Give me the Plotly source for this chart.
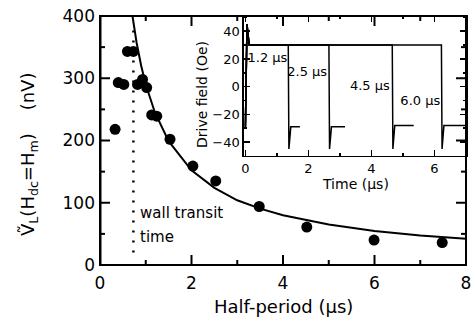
import plotly.graph_objects as go

# ---- main panel data ----
half_period = [0.33, 0.40, 0.52, 0.60, 0.73, 0.82, 0.93, 1.02, 1.13, 1.24, 1.53, 2.03, 2.53, 3.48, 4.52, 5.99, 7.48]
signal_nv = [218, 293, 290, 343, 343, 290, 298, 285, 241, 239, 202, 159, 135, 94, 61, 40, 36]

fit_x = [0.71, 0.8, 0.9, 1.0, 1.2, 1.5, 2.0, 2.5, 3.0, 3.5, 4.0, 5.0, 6.0, 7.0, 8.0]
fit_y = [400, 357, 320, 290, 245, 199, 152, 124, 104, 90.5, 80, 65, 54.8, 47.5, 42]

transit_x = [0.73, 0.73]
transit_y = [20, 378]

x_major = [0, 2, 4, 6, 8]
x_minor = [1, 3, 5, 7]
y_major = [0, 100, 200, 300, 400]
y_minor = [50, 150, 250, 350]

# ---- inset data (drive field waveforms) ----
t_12 = [0.0, 0.05, 0.12, 1.36, 1.38, 1.44, 1.73]
h_12 = [-29, 45, 30, 30, -45, -29, -29]
t_25 = [0.0, 0.05, 0.12, 2.65, 2.67, 2.73, 3.16]
h_25 = [-29, 45, 30, 30, -45, -29, -29]
t_45 = [0.0, 0.05, 0.12, 4.66, 4.68, 4.74, 5.34]
h_45 = [-29, 45, 30, 30, -45, -28, -28]
t_60 = [0.0, 0.05, 0.12, 6.22, 6.24, 6.30, 7.00]
h_60 = [-29, 45, 30, 30, -45, -28, -28]

labels = ["1.2 μs", "2.5 μs", "4.5 μs", "6.0 μs"]
label_x = [0.7, 1.96, 3.95, 5.55]
label_y = [20, 10, 0, -11]

FONT = "DejaVu Sans"

fig = go.Figure()

fig.add_trace(go.Scatter(x=fit_x, y=fit_y, mode="lines",
                         line=dict(color="black", width=2), showlegend=False))
fig.add_trace(go.Scatter(x=transit_x, y=transit_y, mode="lines",
                         line=dict(color="black", width=2.5, dash="2px,8px"),
                         showlegend=False))
fig.add_trace(go.Scatter(x=half_period, y=signal_nv, mode="markers",
                         marker=dict(color="black", size=11), showlegend=False))
# left frame edge drawn through the main axes as well
fig.add_trace(go.Scatter(x=[x_major[0], x_major[0]], y=[y_major[0], y_major[-1]],
                         mode="lines", line=dict(color="black", width=3),
                         cliponaxis=False, showlegend=False))

for t, h in [(t_12, h_12), (t_25, h_25), (t_45, h_45), (t_60, h_60)]:
    fig.add_trace(go.Scatter(x=t, y=h, mode="lines", xaxis="x2", yaxis="y2",
                             line=dict(color="black", width=1.5), showlegend=False))

fig.add_trace(go.Scatter(x=label_x, y=label_y, mode="text", text=labels,
                         textposition="middle center", xaxis="x2", yaxis="y2",
                         textfont=dict(family=FONT, size=13, color="black"),
                         showlegend=False))

W, H = 473, 320
ML, MR, MT, MB = 100, 7, 16, 55
PW = W - ML - MR   # 366
PH = H - MT - MB   # 249


def px_x(x):
    return (x - ML) / PW


def px_y(y):
    return (H - MB - y) / PH


# main frame and inside ticks (mirrored on all four sides)
shapes = [dict(type="rect", xref="paper", yref="paper", x0=0, x1=1, y0=0, y1=1,
               line=dict(color="black", width=2), layer="above")]
for vals, ln in [(x_major, 10), (x_minor, 5)]:
    for v in vals:
        for anchor, sgn in [(0, 1), (1, -1)]:
            shapes.append(dict(type="line", xref="x", yref="paper", x0=v, x1=v,
                               ysizemode="pixel", yanchor=anchor, y0=0, y1=sgn * ln,
                               line=dict(color="black", width=2), layer="above"))
for vals, ln in [(y_major, 10), (y_minor, 5)]:
    for v in vals:
        for anchor, sgn in [(0, 1), (1, -1)]:
            shapes.append(dict(type="line", xref="paper", yref="y", y0=v, y1=v,
                               xsizemode="pixel", xanchor=anchor, x0=0, x1=sgn * ln,
                               line=dict(color="black", width=2), layer="above"))

main_axis = dict(showline=False, ticks="", showgrid=False, zeroline=False,
                 ticklabeloverflow="allow",
                 tickfont=dict(family=FONT, size=17, color="black"))
inset_axis = dict(showline=True, linewidth=1.5, linecolor="black", mirror="ticks",
                  ticks="inside", ticklen=6, tickwidth=1.5, tickcolor="black",
                  showgrid=False, zeroline=False, ticklabeloverflow="allow",
                  tickfont=dict(family=FONT, size=13, color="black"))

fig.update_layout(
    width=W, height=H,
    margin=dict(l=ML, r=MR, t=MT, b=MB, autoexpand=False),
    plot_bgcolor="white", paper_bgcolor="white",
    xaxis=dict(range=[0, 8], tickvals=x_major, ticklabelstandoff=6, **main_axis),
    yaxis=dict(range=[0, 400], tickvals=y_major, ticklabelstandoff=4, **main_axis),
    xaxis2=dict(domain=[0.393, 1], anchor="y2", range=[-0.05, 7.0], dtick=2, tick0=0,
                minor=dict(dtick=1, ticklen=3, ticks="inside", tickwidth=1.5, tickcolor="black"),
                **inset_axis),
    yaxis2=dict(domain=[0.438, 1], anchor="x2", range=[-50, 51], dtick=20, tick0=0,
                minor=dict(dtick=10, ticklen=3, ticks="inside", tickwidth=1.5, tickcolor="black"),
                **inset_axis),
    shapes=shapes,
    annotations=[
        dict(text="V\u0303<sub>L</sub>(H<sub>dc</sub>=H<sub>m</sub>)    (nV)",
             xref="paper", yref="paper", x=px_x(29), y=px_y(155), textangle=-90,
             showarrow=False, font=dict(family=FONT, size=18, color="black"),
             xanchor="center", yanchor="middle"),
        dict(text="Half-period (μs)", xref="paper", yref="paper", x=px_x(283), y=px_y(307),
             showarrow=False, font=dict(family=FONT, size=18, color="black"),
             xanchor="center", yanchor="middle"),
        dict(text="wall transit", xref="x", yref="y", x=0.82, y=83,
             showarrow=False, font=dict(family=FONT, size=15, color="black"),
             xanchor="left", yanchor="middle"),
        dict(text="time", xref="x", yref="y", x=0.82, y=45,
             showarrow=False, font=dict(family=FONT, size=15, color="black"),
             xanchor="left", yanchor="middle"),
        dict(text="Drive field (Oe)", xref="paper", yref="paper", x=px_x(202),
             y=px_y(95), textangle=-90, showarrow=False,
             font=dict(family=FONT, size=14, color="black"),
             xanchor="center", yanchor="middle"),
        dict(text="Time (μs)", xref="paper", yref="paper", x=px_x(355),
             y=px_y(184), showarrow=False,
             font=dict(family=FONT, size=14, color="black"),
             xanchor="center", yanchor="middle"),
    ],
)

fig.write_html(
    "out.html",
    config=dict(staticPlot=True, displayModeBar=False),
    post_script="document.body.style.margin='0px';document.body.style.overflow='hidden';",
)
